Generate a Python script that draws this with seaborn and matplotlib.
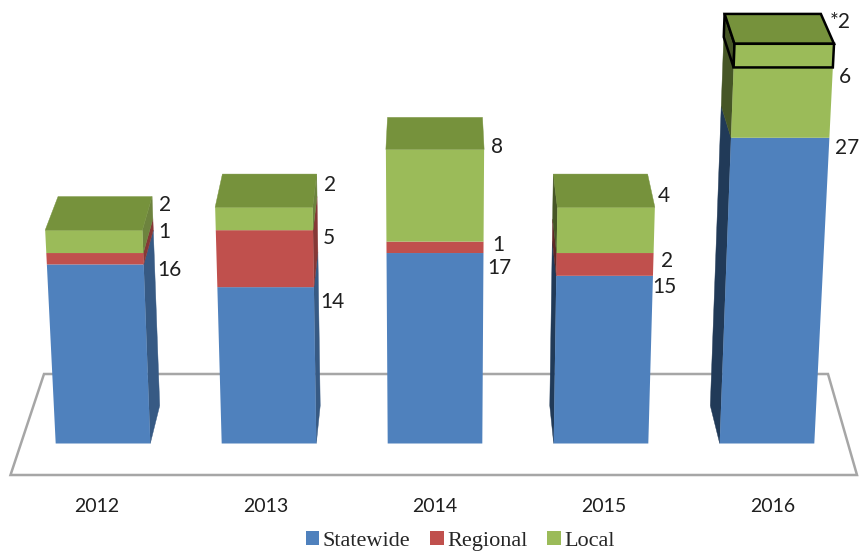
import numpy as np
import matplotlib
matplotlib.use('Agg')
import matplotlib.pyplot as plt
import seaborn as sns
from matplotlib.patches import Polygon
from matplotlib.transforms import Affine2D, Transform

years = ['2012', '2013', '2014', '2015', '2016']
statewide = [16, 14, 17, 15, 27]
regional = [1, 5, 1, 2, 0]
local = [2, 2, 8, 4, 6]
# the extra boxed-in part on top of 2016
local_star = [0, 0, 0, 0, 2]

BLUE, RED, GREEN = '#4f81bd', '#c0504d', '#9bbb59'
TOP = '#76923c'
SIDE_R = {BLUE: '#375a84', RED: '#863836', GREEN: '#6d833e'}
SIDE_L = {BLUE: '#213a58', RED: '#5f2826', GREEN: '#465626'}
BAR_W = 0.57


def to_px(cat, v, back=False):
    # fake Excel 3D: (category, value) -> image pixels
    cat, v = np.asarray(cat, float), np.asarray(v, float)
    y = 443.5 - (11 * v + 0.012 * v ** 2)
    x = 435 + (cat - 2) * 166 * (1 + 0.00013 * (443.5 - y))
    if back:
        x = 435 + (x - 435) * 0.967
        y = 0.98 * y - 29
    return x, y


class Persp(Transform):
    input_dims = output_dims = 2
    is_affine = False

    def transform_non_affine(self, values):
        values = np.asarray(values, float)
        return np.column_stack(to_px(values[:, 0], values[:, 1]))


sns.set_style('white')
plt.rcParams['font.family'] = ['Lato', 'DejaVu Sans']

fig = plt.figure(figsize=(8.6, 5.54), dpi=100)
ax = fig.add_axes([0, (554 - 490) / 554, 1, 490 / 554])
px = Affine2D().scale(1 / 860, -1 / 554).translate(0, 1) + fig.transFigure

# floor
ax.add_patch(Polygon([(10.5, 475), (44, 374), (828, 374), (857, 475)], closed=True,
                     fill=False, edgecolor='#a6a6a6', lw=1.8, transform=px, zorder=1, clip_on=False))

base1 = np.array(statewide)
base2 = base1 + np.array(regional)
base3 = base2 + np.array(local)
tops = base3 + np.array(local_star)

bar_opts = dict(saturation=1, width=BAR_W, zorder=3, linewidth=0, ax=ax)
sns.barplot(x=years, y=statewide, color=BLUE, label='Statewide', **bar_opts)
sns.barplot(x=years, y=regional, bottom=base1, color=RED, label='Regional', **bar_opts)
sns.barplot(x=years, y=local, bottom=base2, color=GREEN, label='Local', **bar_opts)
sns.barplot(x=years, y=local_star, bottom=base3, color=GREEN, **bar_opts)

# push the seaborn bars through the same perspective
for cont in ax.containers:
    for rect in cont:
        rect.set_transform(Persp() + px)
        rect.set_clip_on(False)
star_bar = ax.containers[3][4]
star_bar.set_edgecolor('black')
star_bar.set_linewidth(1.8)
star_bar.set_zorder(5)


def face(corners, color, edge=False, z=2):
    pts = [tuple(np.array(to_px(c, v, back)).tolist()) for c, v, back in corners]
    ax.add_patch(Polygon(pts, closed=True, facecolor=color, transform=px, clip_on=False, zorder=z,
                         edgecolor='black' if edge else color, lw=1.8 if edge else 0.3))


segments = [(np.zeros(5), base1, BLUE), (base1, base2, RED), (base2, base3, GREEN), (base3, tops, GREEN)]
for i in range(len(years)):
    l, r = i - BAR_W / 2, i + BAR_W / 2
    # side faces, only where the camera can see them
    if i != 2:
        edge_x = r if i < 2 else l
        shades = SIDE_R if i < 2 else SIDE_L
        for lo, hi, col in segments:
            if hi[i] > lo[i]:
                boxed = local_star[i] > 0 and lo[i] == base3[i]
                face([(edge_x, lo[i], False), (edge_x, hi[i], False), (edge_x, hi[i], True), (edge_x, lo[i], True)],
                     shades[col], edge=boxed)
    # top face
    face([(l, tops[i], False), (r, tops[i], False), (r, tops[i], True), (l, tops[i], True)], TOP,
         edge=local_star[i] > 0, z=4)

# value labels, hand placed like in the original
label_xy = {
    'statewide': [(169, 270), (332, 302), (499, 268), (664, 287), (847, 148)],
    'regional': [(164, 232), (329, 238), (498, 245), (667, 261), None],
    'local': [(165, 205), (330, 185), (497, 147), (664, 196), (845, 77)],
}
for name, vals in [('statewide', statewide), ('regional', regional), ('local', local)]:
    for v, xy in zip(vals, label_xy[name]):
        if xy is not None:
            ax.text(xy[0], xy[1], str(v), transform=px, ha='center', va='center',
                    fontsize=15, color='#1f1f1f', clip_on=False)
ax.text(840, 22, '*' + str(local_star[4]), transform=px, ha='center', va='center',
        fontsize=15, color='#1f1f1f', clip_on=False)

# axis: only the year labels are left
ax.set_xlim(-104 / 166, (860 - 104) / 166)
ax.set_ylim(-48 / 11, 442 / 11)
ax.set_xticks(2 - 1 / 166 + (np.arange(5) - 2) * 169 / 166)
ax.set_xticklabels(years, fontsize=14, color='#1f1f1f')
ax.set_yticks([])
ax.set_xlabel('')
ax.set_ylabel('')
ax.tick_params(axis='x', length=0, pad=6)
ax.patch.set_visible(False)
sns.despine(ax=ax, left=True, bottom=True)

ax.legend(handles=[ax.containers[0], ax.containers[1], ax.containers[2]],
          labels=['Statewide', 'Regional', 'Local'], loc='center', bbox_to_anchor=(460 / 860, 1 - 541 / 554),
          bbox_transform=fig.transFigure, ncol=3, frameon=False, handlelength=0.62, handleheight=0.62,
          handletextpad=0.15, columnspacing=0.88, prop={'family': 'Liberation Serif', 'size': 16})

plt.savefig('out.png', dpi=100)
